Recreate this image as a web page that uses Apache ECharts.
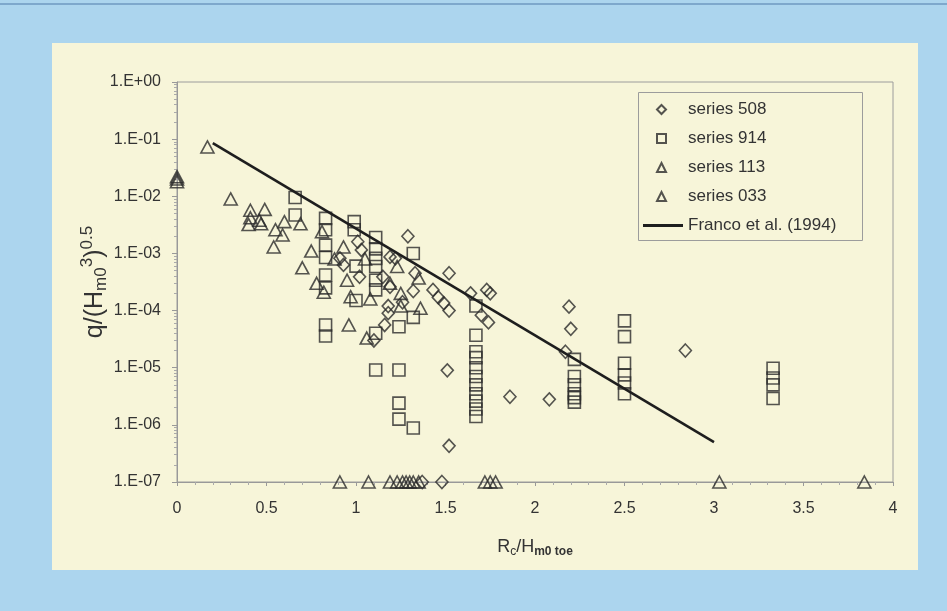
<!DOCTYPE html>
<html>
<head>
<meta charset="utf-8">
<script src="https://cdn.jsdelivr.net/npm/echarts@6/dist/echarts.min.js"></script>
<style>
  html, body { margin: 0; padding: 0; background: #acd5ee; }
  #chart { width: 947px; height: 611px; }
</style>
</head>
<body>
<div id="chart"></div>
<script>
// x = Rc/Hm0 toe, y = q/(Hm0^3)^0.5

var series508 = [
  [0.91, 8.2e-4], [0.93, 6.3e-4], [1.01, 1.6e-3], [1.03, 1.15e-3], [1.02, 3.9e-4],
  [1.10, 3.0e-5], [1.16, 5.6e-5], [1.15, 3.9e-4], [1.19, 2.6e-4], [1.18, 1.2e-4],
  [1.18, 9.0e-5], [1.22, 8.2e-4], [1.19, 8.7e-4], [1.26, 1.4e-4], [1.29, 2.0e-3],
  [1.32, 2.2e-4], [1.33, 4.5e-4], [1.43, 2.3e-4], [1.46, 1.7e-4], [1.49, 1.35e-4],
  [1.52, 1.0e-4], [1.52, 4.5e-4], [1.51, 9.0e-6], [1.52, 4.3e-7], [1.64, 2.0e-4],
  [1.70, 8.3e-5], [1.73, 2.3e-4], [1.75, 2.0e-4], [1.74, 6.2e-5], [1.86, 3.1e-6],
  [2.08, 2.8e-6], [2.17, 1.9e-5], [2.19, 1.17e-4], [2.20, 4.8e-5], [2.84, 2.0e-5],
  [1.37, 1e-7], [1.48, 1e-7]
];

var series914 = [
  [0.66, 9.5e-3], [0.66, 4.7e-3],
  [0.83, 4.1e-3], [0.83, 2.6e-3], [0.83, 1.4e-3], [0.83, 8.5e-4], [0.83, 4.2e-4],
  [0.83, 2.5e-4], [0.83, 5.6e-5], [0.83, 3.6e-5],
  [0.99, 3.6e-3], [0.99, 2.6e-3], [1.00, 6.0e-4], [1.00, 1.5e-4],
  [1.11, 1.9e-3], [1.11, 1.2e-3], [1.11, 8.2e-4], [1.11, 5.9e-4], [1.11, 3.4e-4],
  [1.11, 2.3e-4], [1.11, 4.0e-5], [1.11, 9.1e-6],
  [1.24, 5.2e-5], [1.24, 9.1e-6], [1.24, 2.4e-6], [1.24, 1.26e-6],
  [1.32, 1.0e-3], [1.32, 7.6e-5], [1.32, 8.8e-7],
  [1.67, 1.2e-4], [1.67, 3.7e-5], [1.67, 1.9e-5], [1.67, 1.5e-5], [1.67, 1.0e-5],
  [1.67, 7.0e-6], [1.67, 5.0e-6], [1.67, 3.5e-6], [1.67, 2.6e-6], [1.67, 1.9e-6],
  [1.67, 1.4e-6],
  [2.22, 1.4e-5], [2.22, 7.0e-6], [2.22, 5.0e-6], [2.22, 3.5e-6], [2.22, 3.0e-6],
  [2.22, 2.5e-6],
  [2.50, 6.6e-5], [2.50, 3.5e-5], [2.50, 1.2e-5], [2.50, 7.5e-6], [2.50, 5.4e-6],
  [2.50, 3.5e-6],
  [3.33, 9.8e-6], [3.33, 6.6e-6], [3.33, 5.0e-6], [3.33, 2.9e-6]
];

var series113 = [
  [0.17, 0.073], [0.30, 9.0e-3], [0.41, 5.7e-3], [0.49, 5.9e-3], [0.41, 4.2e-3],
  [0.46, 3.8e-3], [0.40, 3.2e-3], [0.47, 3.3e-3], [0.55, 2.6e-3], [0.60, 3.6e-3],
  [0.69, 3.3e-3], [0.59, 2.1e-3], [0.54, 1.3e-3], [0.70, 5.6e-4], [0.75, 1.1e-3],
  [0.81, 2.4e-3], [0.78, 3.0e-4], [0.82, 2.1e-4], [0.88, 8.0e-4], [0.93, 1.3e-3],
  [0.95, 3.4e-4], [0.97, 1.75e-4], [0.96, 5.6e-5], [1.06, 3.3e-5], [1.05, 8.0e-4],
  [1.08, 1.6e-4], [1.19, 3.0e-4], [1.23, 5.9e-4], [1.25, 2.0e-4], [1.25, 1.2e-4],
  [1.35, 3.7e-4], [1.36, 1.1e-4],
  [0.91, 1e-7], [1.07, 1e-7], [1.19, 1e-7], [1.23, 1e-7], [1.26, 1e-7], [1.28, 1e-7],
  [1.30, 1e-7], [1.32, 1e-7], [1.35, 1e-7], [1.72, 1e-7], [1.75, 1e-7], [1.78, 1e-7],
  [3.03, 1e-7], [3.84, 1e-7]
];

var series033 = [[0, 0.018], [0, 0.020], [0, 0.022]];

// Franco et al. (1994), end points
var franco = [[0.2, 0.085], [3.0, 5.0e-7]];

var xTicks = { min: 0, max: 4, interval: 0.5 };
var yTicks = { min: 1e-7, max: 1 };

var pointNames = ['series 508', 'series 914', 'series 113', 'series 033'];
var lineName = 'Franco et al. (1994)';

var chart = echarts.init(document.getElementById('chart'));

var ink = '#2b2b2b';
var hollow = {
  color: 'rgba(0,0,0,0)',
  borderColor: ink,
  borderWidth: 1.6
};

function expLabel(v) {
  var e = Math.round(Math.log10(v));
  var s = e < 0 ? '-' : '+';
  var a = Math.abs(e);
  return '1.E' + s + (a < 10 ? '0' + a : a);
}

function scatter(name, data, symbol, size) {
  return {
    name: name,
    type: 'scatter',
    data: data,
    symbol: symbol,
    symbolSize: size,
    clip: false,
    itemStyle: hollow,
    z: 3
  };
}

var legendText = { fontSize: 17, color: '#333' };

var option = {
  animation: false,
  textStyle: { fontFamily: 'Liberation Sans, Arial, sans-serif' },
  graphic: [
    {
      type: 'rect',
      z: -10,
      shape: { x: 52, y: 43, width: 866, height: 527 },
      style: { fill: '#f7f5d9' }
    },
    {
      type: 'rect',
      z: -10,
      shape: { x: 0, y: 3, width: 947, height: 2 },
      style: { fill: '#7ea8cc' }
    },
    {
      type: 'rect',
      z: 1,
      shape: { x: 638.5, y: 92.5, width: 224, height: 148 },
      style: { fill: 'none', stroke: '#9c9c9c', lineWidth: 1 }
    }
  ],
  grid: {
    left: 177,
    right: 54,
    top: 82,
    bottom: 129,
    show: true,
    borderColor: '#9c9c9c',
    borderWidth: 1,
    backgroundColor: 'transparent'
  },
  legend: [
    {
      orient: 'vertical',
      left: 656,
      top: 101,
      padding: 0,
      itemGap: 12,
      itemWidth: 9,
      itemHeight: 9,
      textStyle: Object.assign({ padding: [0, 0, 0, 17] }, legendText),
      data: pointNames
    },
    {
      orient: 'vertical',
      left: 643,
      top: 217,
      padding: 0,
      itemWidth: 40,
      itemHeight: 3,
      textStyle: legendText,
      data: [{ name: lineName, icon: 'rect' }]
    }
  ],
  xAxis: {
    type: 'value',
    min: xTicks.min,
    max: xTicks.max,
    interval: xTicks.interval,
    name: 'R{sub|c}/H{subb|m0 toe}',
    nameLocation: 'middle',
    nameGap: 55,
    nameTextStyle: {
      fontSize: 18,
      color: '#333',
      rich: {
        sub: { fontSize: 12, color: '#333', padding: [9, 0, 0, 0] },
        subb: { fontSize: 12, color: '#333', fontWeight: 'bold', padding: [9, 0, 0, 0] }
      }
    },
    axisLine: { lineStyle: { color: '#999', width: 1 } },
    axisTick: { show: true, length: 4, lineStyle: { color: '#999' } },
    minorTick: { show: true, splitNumber: 5, length: 3, lineStyle: { color: '#aaa' } },
    splitLine: { show: false },
    axisLabel: {
      fontSize: 16,
      color: '#333',
      margin: 19,
      formatter: function (v) { return String(v); }
    }
  },
  yAxis: {
    type: 'log',
    logBase: 10,
    min: yTicks.min,
    max: yTicks.max,
    name: 'q/(H{sub|m0}{sup|3}){sup|0.5}',
    nameLocation: 'middle',
    nameGap: 66,
    nameMoveOverlap: false,
    nameTextStyle: {
      fontSize: 25,
      color: '#333',
      rich: {
        sub: { fontSize: 17, color: '#333', padding: [13, 0, 0, 0] },
        sup: { fontSize: 17, color: '#333', padding: [0, 0, 15, 0] }
      }
    },
    axisLine: { show: true, lineStyle: { color: '#999', width: 1 } },
    axisTick: { show: true, length: 5, lineStyle: { color: '#999' } },
    minorTick: { show: true, splitNumber: 9, length: 3, lineStyle: { color: '#aaa' } },
    splitLine: { show: false },
    minorSplitLine: { show: false },
    axisLabel: {
      fontSize: 16,
      color: '#333',
      margin: 16,
      formatter: expLabel
    }
  },
  series: [
    scatter('series 508', series508, 'diamond', [12, 13]),
    scatter('series 914', series914, 'rect', 12),
    scatter('series 113', series113, 'triangle', [13, 12]),
    scatter('series 033', series033, 'triangle', [13, 12]),
    {
      name: lineName,
      type: 'line',
      data: franco,
      symbol: 'none',
      clip: false,
      lineStyle: { color: '#1e1e1e', width: 2.6 },
      itemStyle: { color: '#1e1e1e' },
      z: 4
    }
  ]
};

chart.setOption(option);
</script>
</body>
</html>
